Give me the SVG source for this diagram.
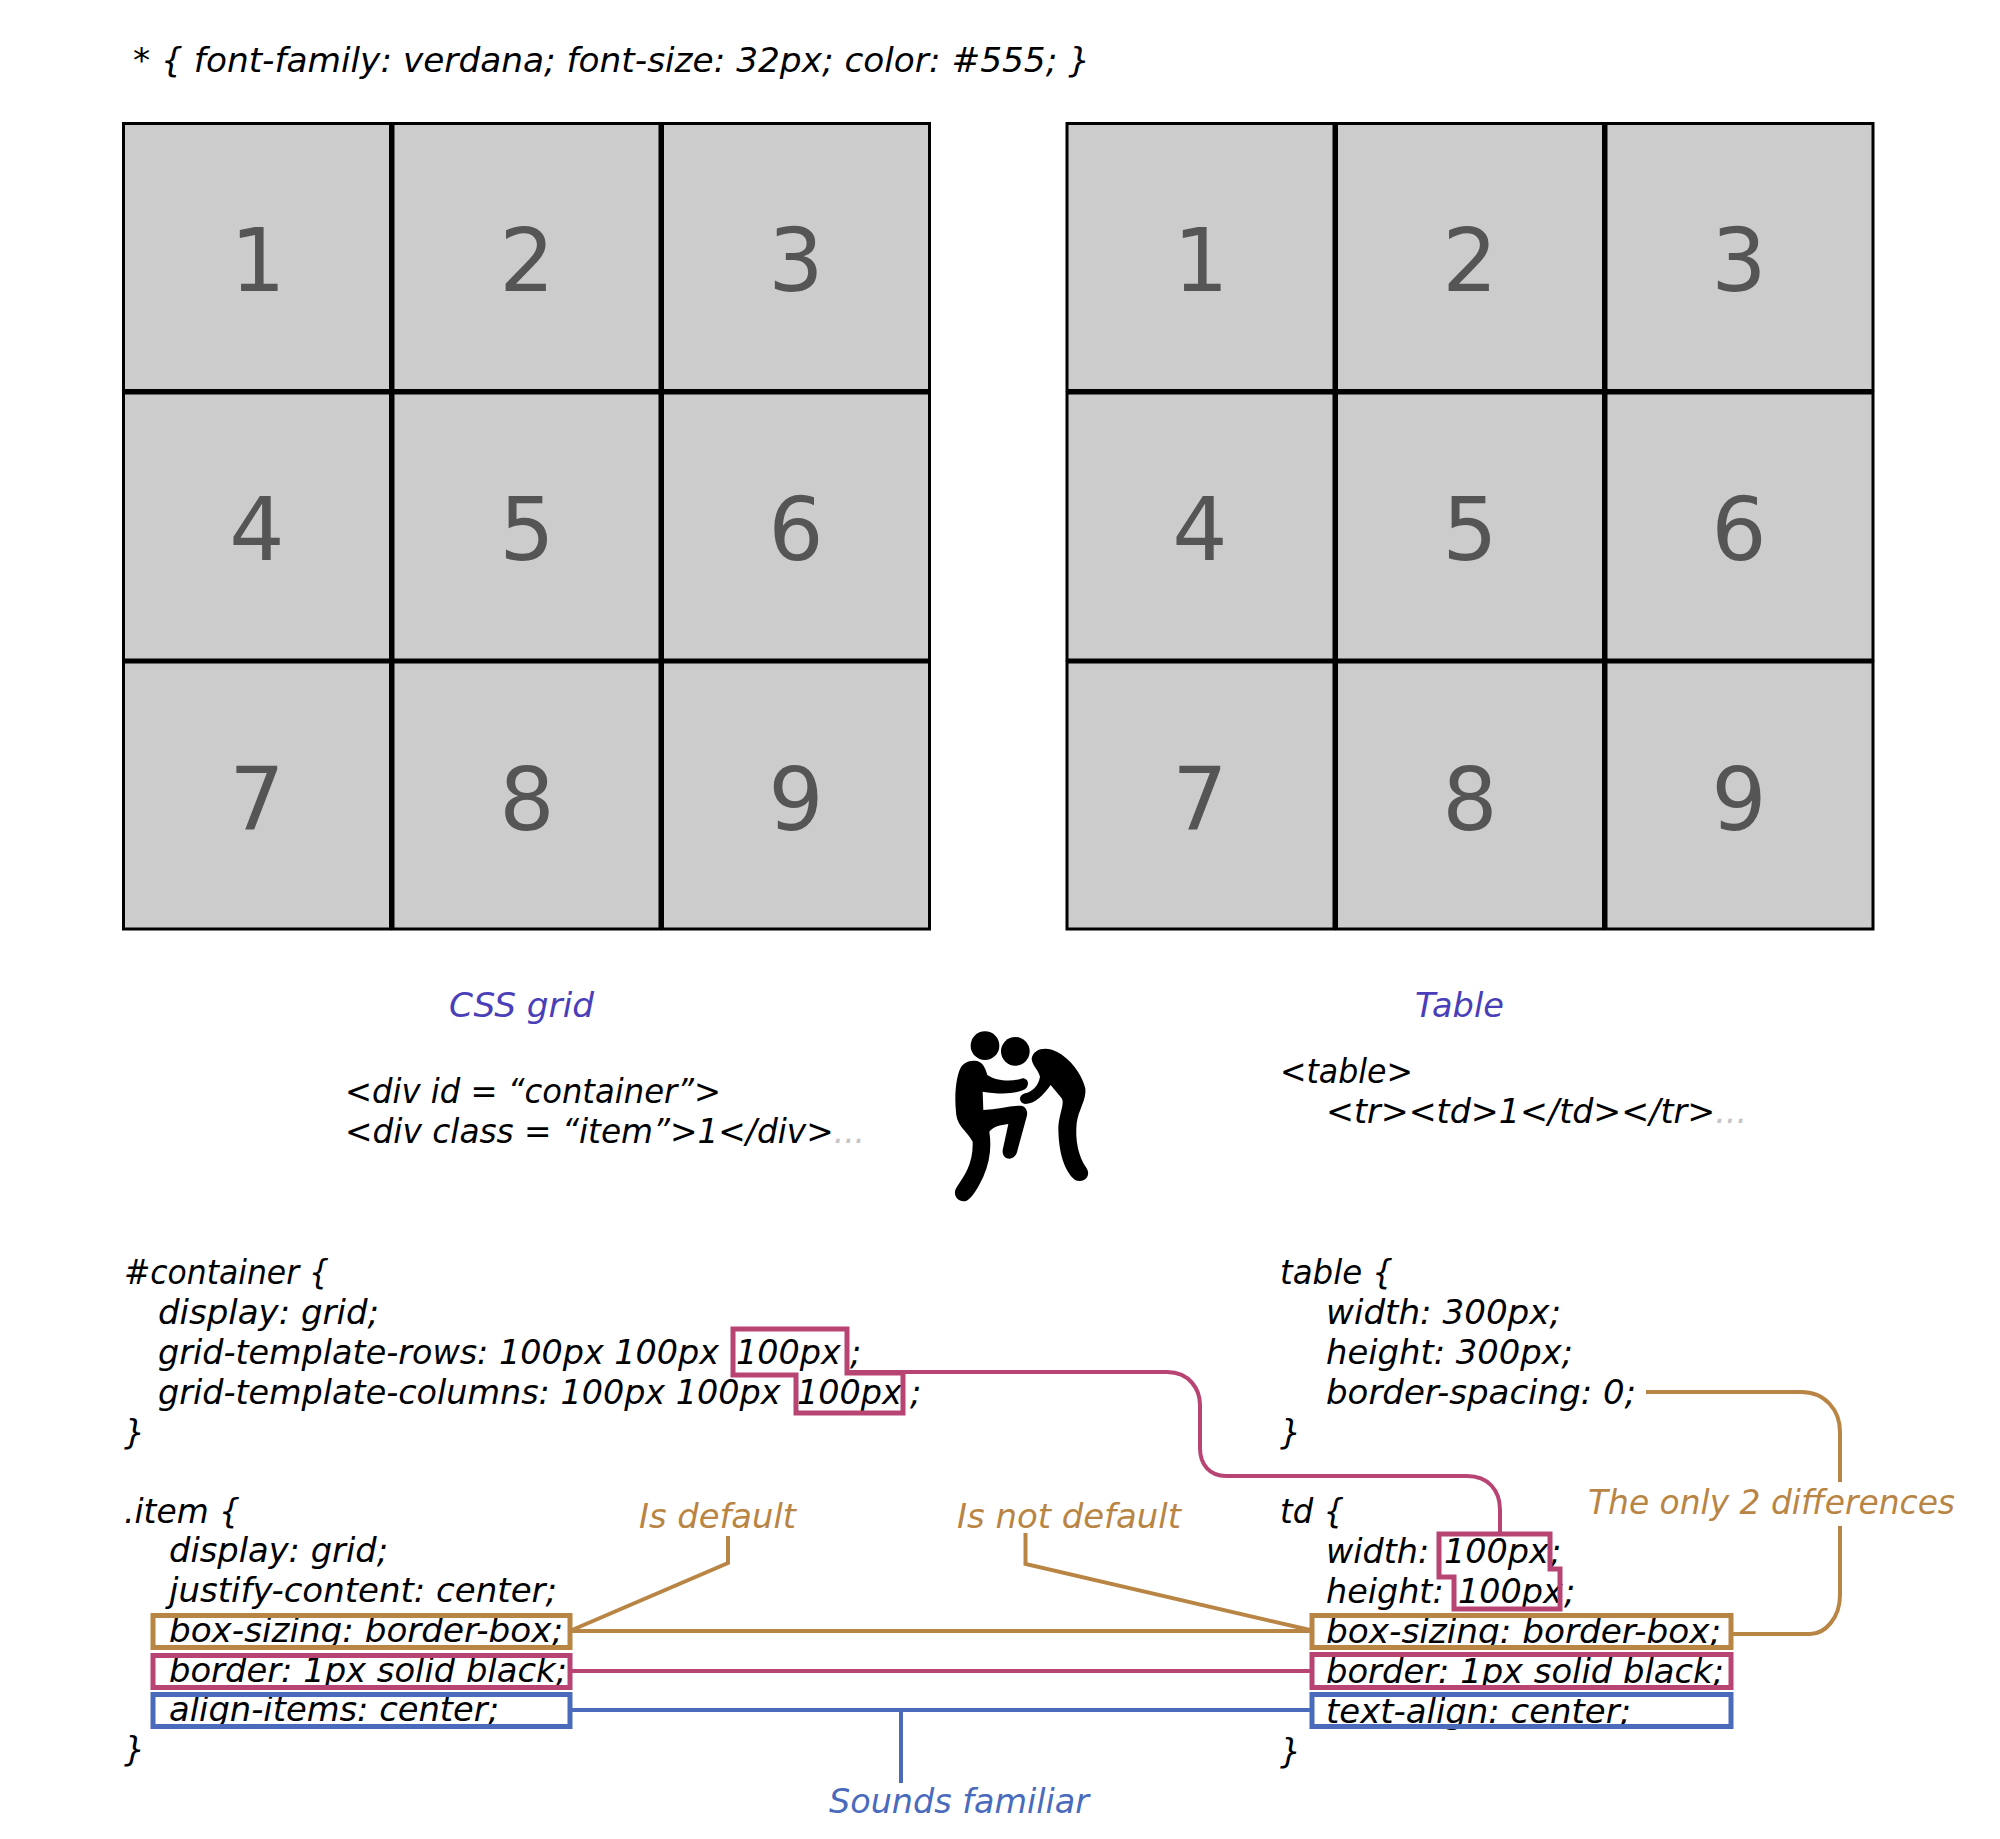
<svg xmlns="http://www.w3.org/2000/svg" width="2000" height="1839" viewBox="0 0 2000 1839">
<style>
text{font-family:"DejaVu Sans",Verdana,sans-serif;font-style:italic;font-size:33px;fill:#000}
text.w{font-size:33.4px}
text.n{font-style:normal;font-size:87px;fill:#555;text-anchor:middle}
.c{fill:#ccc;stroke:#000;stroke-width:3}
text.lb{fill:#4a3fb8}text.lt{fill:#b98545}text.lu{fill:#4a6abc}.g{fill:#c4c4c4}
.t,.p,.u{fill:none;stroke-width:4}
.b{stroke-width:5}
.t{stroke:#b98545}.p{stroke:#b84473}.u{stroke:#4a6abc}
</style>
<rect width="2000" height="1839" fill="#fff"/>
<text id="title" x="133" y="72" textLength="957" lengthAdjust="spacingAndGlyphs">* { font-family: verdana; font-size: 32px; color: #555; }</text>
<g id="grid">
<g id="g1"><rect class="c" x="123.5" y="123.5" width="267" height="267"/><text class="n" x="258" y="291">1</text></g>
<g id="g2"><rect class="c" x="393" y="123.5" width="267" height="267"/><text class="n" x="527" y="291">2</text></g>
<g id="g3"><rect class="c" x="662.5" y="123.5" width="267" height="267"/><text class="n" x="796" y="291">3</text></g>
<g id="g4"><rect class="c" x="123.5" y="393" width="267" height="267"/><text class="n" x="257" y="560">4</text></g>
<g id="g5"><rect class="c" x="393" y="393" width="267" height="267"/><text class="n" x="527" y="560">5</text></g>
<g id="g6"><rect class="c" x="662.5" y="393" width="267" height="267"/><text class="n" x="796" y="560">6</text></g>
<g id="g7"><rect class="c" x="123.5" y="662" width="267" height="267"/><text class="n" x="257" y="830">7</text></g>
<g id="g8"><rect class="c" x="393" y="662" width="267" height="267"/><text class="n" x="527" y="830">8</text></g>
<g id="g9"><rect class="c" x="662.5" y="662" width="267" height="267"/><text class="n" x="796" y="830">9</text></g>
</g>
<g id="table">
<g id="t1"><rect class="c" x="1067" y="123.5" width="267" height="267"/><text class="n" x="1201" y="291">1</text></g>
<g id="t2"><rect class="c" x="1336.5" y="123.5" width="267" height="267"/><text class="n" x="1470" y="291">2</text></g>
<g id="t3"><rect class="c" x="1606" y="123.5" width="267" height="267"/><text class="n" x="1739" y="291">3</text></g>
<g id="t4"><rect class="c" x="1067" y="393" width="267" height="267"/><text class="n" x="1200" y="560">4</text></g>
<g id="t5"><rect class="c" x="1336.5" y="393" width="267" height="267"/><text class="n" x="1470" y="560">5</text></g>
<g id="t6"><rect class="c" x="1606" y="393" width="267" height="267"/><text class="n" x="1739" y="560">6</text></g>
<g id="t7"><rect class="c" x="1067" y="662" width="267" height="267"/><text class="n" x="1200" y="830">7</text></g>
<g id="t8"><rect class="c" x="1336.5" y="662" width="267" height="267"/><text class="n" x="1470" y="830">8</text></g>
<g id="t9"><rect class="c" x="1606" y="662" width="267" height="267"/><text class="n" x="1739" y="830">9</text></g>
</g>
<g id="captions">
<text class="lb" x="449" y="1017" textLength="145" lengthAdjust="spacingAndGlyphs">CSS grid</text>
<text class="lb" x="1415" y="1017" textLength="89" lengthAdjust="spacingAndGlyphs">Table</text>
</g>
<g id="html-left" transform="translate(-1 1)">
<text x="346" y="1102" textLength="376" lengthAdjust="spacingAndGlyphs">&lt;div id = “container”&gt;</text>
<text x="346" y="1142" textLength="520" lengthAdjust="spacingAndGlyphs">&lt;div class = “item”&gt;1&lt;/div&gt;<tspan class="g">...</tspan></text>
</g>
<g id="html-right" transform="translate(-1 1)">
<text x="1281" y="1082" textLength="133" lengthAdjust="spacingAndGlyphs">&lt;table&gt;</text>
<text x="1327" y="1122" textLength="421" lengthAdjust="spacingAndGlyphs">&lt;tr&gt;&lt;td&gt;1&lt;/td&gt;&lt;/tr&gt;<tspan class="g">...</tspan></text>
</g>
<g id="wrestlers" transform="translate(900 980) scale(.33333)" fill="#000">
<circle cx="255" cy="197" r="43"/><circle cx="346" cy="214" r="43"/>
<path d="M215 243C245 238 255 260 262 285C290 305 340 305 368 295C385 295 390 315 375 328C340 345 290 342 248 335L250 390C290 388 330 378 362 377C378 378 385 395 380 410L350 520C340 545 305 540 308 510L325 432C300 435 280 440 268 455C275 500 270 545 250 590C235 620 220 650 200 662C175 670 155 645 170 622C195 585 220 550 218 485C200 450 170 440 168 395C162 340 170 280 185 258C195 248 205 243 215 243Z"/>
<path d="M395 235C400 205 440 198 470 215C510 235 545 280 556 325C560 360 535 390 530 430C525 480 535 530 560 565C575 590 550 612 525 600C490 570 475 510 475 440C478 400 495 370 485 355L452 315C430 345 405 372 375 372C355 368 355 345 375 340C395 335 415 320 420 290C415 270 395 255 395 235Z"/>
</g>
<g id="css-container" transform="translate(-1 1)">
<text x="125" y="1283" textLength="205" lengthAdjust="spacingAndGlyphs">#container {</text>
<text x="159" y="1323" textLength="221" lengthAdjust="spacingAndGlyphs">display: grid;</text>
<text class="w" x="159" y="1363">grid-template-rows: 100px 100px <tspan x="737">100px </tspan><tspan x="851">;</tspan></text>
<text class="w" x="159" y="1403">grid-template-columns: 100px 100px <tspan x="798">100px </tspan><tspan x="911">;</tspan></text>
<text x="125" y="1443">}</text>
</g>
<g id="css-item" transform="translate(-1 1)">
<text x="125" y="1522" textLength="116" lengthAdjust="spacingAndGlyphs">.item {</text>
<text x="170" y="1561" textLength="219" lengthAdjust="spacingAndGlyphs">display: grid;</text>
<text x="170" y="1601" textLength="388" lengthAdjust="spacingAndGlyphs">justify-content: center;</text>
<text x="170" y="1641" textLength="394" lengthAdjust="spacingAndGlyphs">box-sizing: border-box;</text>
<text x="170" y="1681" textLength="398" lengthAdjust="spacingAndGlyphs">border: 1px solid black;</text>
<text x="170" y="1720" textLength="330" lengthAdjust="spacingAndGlyphs">align-items: center;</text>
<text x="125" y="1760">}</text>
</g>
<g id="css-table" transform="translate(-1 1)">
<text x="1281" y="1283" textLength="113" lengthAdjust="spacingAndGlyphs">table {</text>
<text x="1327" y="1323" textLength="235" lengthAdjust="spacingAndGlyphs">width: 300px;</text>
<text x="1327" y="1363" textLength="247" lengthAdjust="spacingAndGlyphs">height: 300px;</text>
<text x="1327" y="1403" textLength="310" lengthAdjust="spacingAndGlyphs">border-spacing: 0;</text>
<text x="1281" y="1443">}</text>
</g>
<g id="css-td" transform="translate(-1 1)">
<text x="1281" y="1522" textLength="64" lengthAdjust="spacingAndGlyphs">td {</text>
<text class="w" x="1327" y="1562">width: <tspan x="1445">100px</tspan><tspan x="1551">;</tspan></text>
<text class="w" x="1327" y="1602">height: <tspan x="1459">100px</tspan><tspan x="1565">;</tspan></text>
<text x="1327" y="1642" textLength="395" lengthAdjust="spacingAndGlyphs">box-sizing: border-box;</text>
<text x="1327" y="1682" textLength="398" lengthAdjust="spacingAndGlyphs">border: 1px solid black;</text>
<text x="1327" y="1722" textLength="305" lengthAdjust="spacingAndGlyphs">text-align: center;</text>
<text x="1281" y="1762">}</text>
</g>
<g id="highlights">
<rect class="t b" x="153" y="1615.5" width="417" height="32"/>
<rect class="p b" x="153" y="1655.5" width="417" height="32"/>
<rect class="u b" x="153" y="1694.5" width="417" height="32"/>
<rect class="t b" x="1312" y="1615.5" width="419" height="32"/>
<rect class="p b" x="1312" y="1654.5" width="419" height="33"/>
<rect class="u b" x="1312" y="1694.5" width="419" height="32"/>
<path class="p b" d="M733 1329H847V1373H903V1413H796V1375H733Z"/>
<path class="p b" d="M1439 1534H1550V1569H1560V1609H1454V1577H1439Z"/>
</g>
<g id="connectors">
<path class="p" d="M849 1372H1167C1190 1372 1200 1390 1200 1405V1448C1200 1465 1210 1476 1226 1476H1467C1488 1476 1500 1490 1500 1510V1532"/>
<path class="t" d="M1646 1392H1801C1825 1392 1840 1410 1840 1432V1482"/>
<path class="t" d="M1840 1526V1595C1840 1618 1825 1634 1810 1634H1733"/>
<path class="t" d="M728 1536V1563L572 1630"/>
<path class="t" d="M572 1631H1310"/>
<path class="t" d="M1025.5 1533V1564L1310 1630"/>
<path class="p" d="M572 1671H1310"/>
<path class="u" d="M572 1710H1310"/>
<path class="u" d="M901 1710V1783"/>
</g>
<g id="labels" transform="translate(-1 1)">
<text class="lt" x="640" y="1527" textLength="157" lengthAdjust="spacingAndGlyphs">Is default</text>
<text class="lt" x="958" y="1527" textLength="224" lengthAdjust="spacingAndGlyphs">Is not default</text>
<text class="lt" x="1589" y="1513" textLength="367" lengthAdjust="spacingAndGlyphs">The only 2 differences</text>
<text class="lu" x="830" y="1812" textLength="260" lengthAdjust="spacingAndGlyphs">Sounds familiar</text>
</g>
</svg>
